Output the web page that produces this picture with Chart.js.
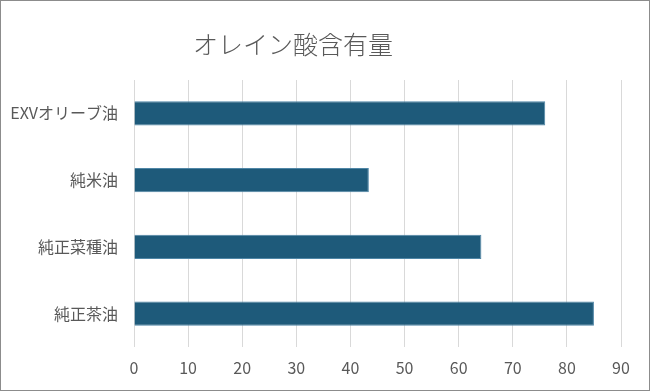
<!DOCTYPE html>
<html>
<head>
<meta charset="utf-8">
<script src="https://cdn.jsdelivr.net/npm/chart.js@4/dist/chart.umd.min.js"></script>
<style>
  html, body { margin: 0; padding: 0; background: #fff; }
  #wrap {
    width: 650px; height: 391px; box-sizing: border-box;
    border: 1px solid #8c8c8c; position: relative;
  }
</style>
</head>
<body>
<div id="wrap"><canvas id="barChart"></canvas></div>
<script>
// データ
const chartTitle = "オレイン酸含有量";
const categories = ["EXVオリーブ油", "純米油", "純正菜種油", "純正茶油"];
const oleicValues = [76, 43.4, 64.2, 85];
const xTicks = [0, 10, 20, 30, 40, 50, 60, 70, 80, 90];

const fontFamily = "'Noto Sans CJK JP', 'Noto Sans', sans-serif";
const textColor = "#595959";

// タイトルは左寄りなので自前で描く
const titlePlugin = {
  id: "leftTitle",
  afterDraw(chart) {
    const ctx = chart.ctx;
    ctx.save();
    ctx.font = "300 25px " + fontFamily;
    ctx.fillStyle = textColor;
    ctx.textAlign = "center";
    ctx.textBaseline = "middle";
    ctx.fillText(chartTitle, 292, 43);
    ctx.restore();
  },
};

const ctxBar = document.getElementById("barChart").getContext("2d");
new Chart(ctxBar, {
  type: "bar",
  data: {
    labels: categories,
    datasets: [
      {
        label: chartTitle,
        data: oleicValues,
        backgroundColor: "#1e5a7a",
        borderColor: "#4f86a6",
        borderWidth: 1,
        barPercentage: 0.6,
        categoryPercentage: 0.6,
      },
    ],
  },
  options: {
    indexAxis: "y",
    responsive: true,
    maintainAspectRatio: false,
    animation: false,
    layout: { padding: { top: 79, right: 28, left: 0, bottom: 0 } },
    plugins: {
      legend: { display: false },
      title: { display: false },
      tooltip: { enabled: false },
    },
    scales: {
      x: {
        min: 0,
        max: 90,
        afterBuildTicks: (axis) => {
          axis.ticks = xTicks.map((v) => ({ value: v }));
        },
        afterFit: (axis) => { axis.height = 43; },
        grid: { color: "#d9d9d9", lineWidth: 1, drawTicks: false },
        border: { display: false },
        ticks: {
          padding: 11,
          color: textColor,
          font: { family: fontFamily, size: 16 },
        },
      },
      y: {
        afterFit: (axis) => { axis.width = 133; },
        grid: { display: false, drawTicks: false },
        border: { display: false },
        ticks: {
          padding: 16,
          color: textColor,
          font: { family: fontFamily, size: 16 },
        },
      },
    },
  },
  plugins: [titlePlugin],
});
</script>
</body>
</html>
